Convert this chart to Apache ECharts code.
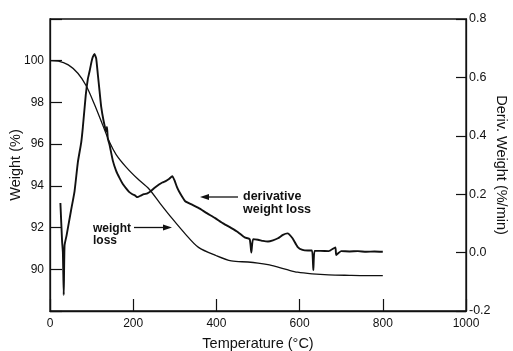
<!DOCTYPE html>
<html>
<head>
<meta charset="utf-8">
<script src="https://cdn.jsdelivr.net/npm/echarts@6/dist/echarts.min.js"></script>
<style>
html,body{margin:0;padding:0;background:#fff;}
#chart{width:513px;height:351px;}
</style>
</head>
<body>
<div id="chart"></div>
<script>
// Weight (%) curve
var weightTemp = [0, 20, 44, 67, 87, 107, 127, 143, 159, 183, 210, 238, 265, 293, 325, 357, 400, 436, 476, 500, 524, 548, 570, 595, 630, 670, 720, 760, 800];
var weightPct  = [100.0, 99.98, 99.8, 99.4, 98.8, 97.9, 96.9, 96.1, 95.5, 94.9, 94.35, 93.85, 93.15, 92.45, 91.7, 91.05, 90.65, 90.4, 90.35, 90.3, 90.22, 90.1, 89.98, 89.86, 89.78, 89.73, 89.71, 89.7, 89.7];

// Derivative weight loss (%/min)
var derivTemp = [25, 29, 31, 33, 35, 40, 50, 59, 67, 75, 79, 86, 91, 95, 100, 103, 107, 111, 115, 119, 123, 129, 135, 137, 139, 143, 151, 159, 167, 175, 183, 190, 198, 205, 210, 218, 226, 234, 242, 250, 262, 270, 278, 286, 294, 300, 305, 310, 317, 325, 340, 357, 377, 397, 416, 436, 452, 468, 480, 484, 488, 500, 512, 524, 536, 548, 560, 571, 583, 595, 607, 620, 630, 633, 636, 650, 670, 686, 688, 700, 720, 740, 760, 780, 800];
var derivVal  = [0.17, 0.04, 0.0, -0.145, 0.025, 0.06, 0.14, 0.21, 0.31, 0.377, 0.43, 0.54, 0.595, 0.62, 0.655, 0.67, 0.68, 0.665, 0.61, 0.555, 0.5, 0.45, 0.415, 0.43, 0.39, 0.37, 0.315, 0.28, 0.256, 0.235, 0.22, 0.208, 0.2, 0.195, 0.19, 0.195, 0.2, 0.203, 0.21, 0.22, 0.233, 0.24, 0.245, 0.252, 0.262, 0.245, 0.225, 0.21, 0.193, 0.176, 0.165, 0.153, 0.135, 0.118, 0.1, 0.084, 0.07, 0.052, 0.046, 0.0, 0.046, 0.044, 0.04, 0.038, 0.042, 0.049, 0.061, 0.066, 0.049, 0.02, 0.009, 0.007, 0.007, -0.06, 0.006, 0.006, 0.005, 0.018, -0.008, 0.005, 0.004, 0.005, 0.003, 0.004, 0.003];

// Axis tick settings
var xTicks = {min: 0, max: 1000, step: 200};
var leftTicks = {min: 88, max: 102, step: 2};
var rightTicks = {min: -0.2, max: 0.8, step: 0.2};

function pairs(xs, ys) { return xs.map(function (x, i) { return [x, ys[i]]; }); }

var FONT = '"Liberation Sans", Arial, Helvetica, sans-serif';
var INK = '#111';

var chart = echarts.init(document.getElementById('chart'), null, {renderer: 'canvas'});
chart.setOption({
  animation: false,
  backgroundColor: '#fff',
  grid: {left: 50, top: 19, width: 416, height: 292, show: true, borderColor: INK, borderWidth: 1.3,
         containLabel: false, outerBoundsMode: 'none'},
  xAxis: {
    type: 'value', min: xTicks.min, max: xTicks.max, interval: xTicks.step,
    name: 'Temperature (\u00B0C)', nameLocation: 'middle', nameGap: 25,
    nameTextStyle: {fontFamily: FONT, fontSize: 14.5, color: INK},
    axisLine: {show: true, onZero: false, lineStyle: {color: INK, width: 1.3}},
    axisTick: {show: true, inside: true, length: 12, lineStyle: {color: INK, width: 1.2}},
    axisLabel: {fontFamily: FONT, fontSize: 12, color: INK, margin: 7,
      formatter: function (v) { return String(v); }},
    splitLine: {show: false}
  },
  yAxis: [{
    type: 'value', min: leftTicks.min, max: leftTicks.max, interval: leftTicks.step, position: 'left',
    name: 'Weight (%)', nameLocation: 'middle', nameGap: 27, nameMoveOverlap: false,
    nameTextStyle: {fontFamily: FONT, fontSize: 14.5, color: INK},
    axisLine: {show: true, onZero: false, lineStyle: {color: INK, width: 1.3}},
    axisTick: {show: true, inside: true, length: 12, lineStyle: {color: INK, width: 1.2}},
    axisLabel: {fontFamily: FONT, fontSize: 12, color: INK, margin: 6,
      formatter: function (v) { return (v <= leftTicks.min || v >= leftTicks.max) ? '' : String(v); }},
    splitLine: {show: false}
  }, {
    type: 'value', min: rightTicks.min, max: rightTicks.max, interval: rightTicks.step, position: 'right',
    name: 'Deriv. Weight (%/min)', nameLocation: 'middle', nameGap: 27, nameRotate: -90, nameMoveOverlap: false,
    nameTextStyle: {fontFamily: FONT, fontSize: 14.5, color: INK},
    axisLine: {show: true, onZero: false, lineStyle: {color: INK, width: 1.3}},
    axisTick: {show: true, inside: true, length: 10, lineStyle: {color: INK, width: 1.2}},
    axisLabel: {fontFamily: FONT, fontSize: 12.5, color: INK, margin: 3,
      formatter: function (v) { return v.toFixed(1); }},
    splitLine: {show: false}
  }],
  series: [{
    name: 'weight loss', type: 'line', yAxisIndex: 0, data: pairs(weightTemp, weightPct),
    showSymbol: false, smooth: 0.3, lineStyle: {color: INK, width: 1.3}
  }, {
    name: 'derivative weight loss', type: 'line', yAxisIndex: 1, data: pairs(derivTemp, derivVal),
    showSymbol: false, smooth: 0.15, lineStyle: {color: INK, width: 1.9}
  }],
  graphic: [
    {type: 'text', left: 93, top: 223, style: {text: 'weight', font: 'bold 12px ' + FONT, fill: INK}},
    {type: 'text', left: 93, top: 235, style: {text: 'loss', font: 'bold 12px ' + FONT, fill: INK}},
    {type: 'line', shape: {x1: 134, y1: 227.5, x2: 165, y2: 227.5}, style: {stroke: INK, lineWidth: 1.3}},
    {type: 'polygon', shape: {points: [[172, 227.5], [163, 224.5], [163, 230.5]]}, style: {fill: INK}},
    {type: 'text', left: 243, top: 190, style: {text: 'derivative', font: 'bold 12.5px ' + FONT, fill: INK}},
    {type: 'text', left: 243, top: 203, style: {text: 'weight loss', font: 'bold 12.5px ' + FONT, fill: INK}},
    {type: 'line', shape: {x1: 238, y1: 197, x2: 207, y2: 197}, style: {stroke: INK, lineWidth: 1.3}},
    {type: 'polygon', shape: {points: [[200, 197], [209, 194], [209, 200]]}, style: {fill: INK}}
  ]
});
</script>
</body>
</html>
